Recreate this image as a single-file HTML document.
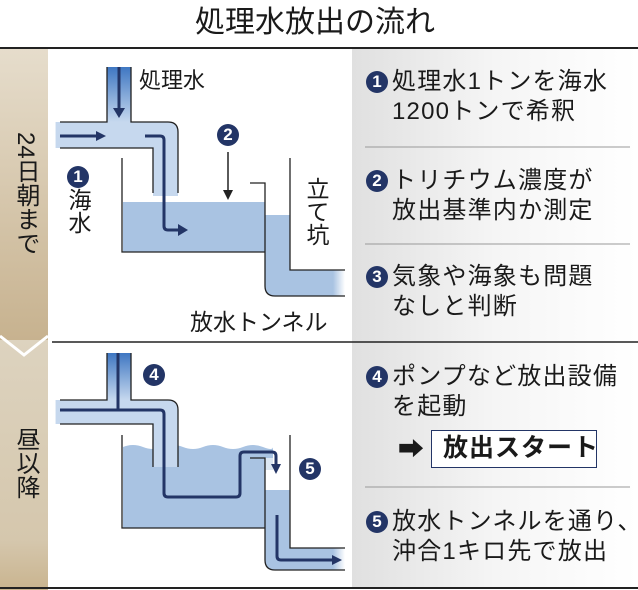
<!DOCTYPE html>
<html><head><meta charset="utf-8"><style>
body{margin:0;background:#fff;}
#w{position:relative;width:638px;height:590px;overflow:hidden;font-family:"Liberation Sans","Noto Sans CJK JP",sans-serif;color:#1a1a1a;}
.t{position:absolute;font-size:24px;line-height:30px;white-space:nowrap;letter-spacing:0px;}
.r{letter-spacing:1.2px;}
.v{position:absolute;writing-mode:vertical-rl;font-size:24px;line-height:24px;}
.c{display:inline-block;width:22px;height:22px;border-radius:50%;background:#233566;color:#fff;font-weight:bold;font-size:17px;line-height:22px;text-align:center;vertical-align:2px;margin-right:4px;font-family:"Liberation Sans",sans-serif;letter-spacing:0;}
</style></head><body><div id="w">
<svg width="638" height="590" style="position:absolute;left:0;top:0">
<defs>
<linearGradient id="tan1" x1="0" y1="0" x2="0" y2="1"><stop offset="0" stop-color="#e6ddcc"/><stop offset="1" stop-color="#c7b28f"/></linearGradient>
<linearGradient id="tan2" x1="0" y1="0" x2="0" y2="1"><stop offset="0" stop-color="#ddd3bf"/><stop offset="0.8" stop-color="#d5c7ad"/><stop offset="1" stop-color="#c9b48f"/></linearGradient>
<linearGradient id="gr" x1="0" y1="0" x2="1" y2="0"><stop offset="0" stop-color="#e0e0e0"/><stop offset="0.5" stop-color="#f5f5f5"/><stop offset="1" stop-color="#fff"/></linearGradient>
<linearGradient id="vp" x1="0" y1="0" x2="0" y2="1"><stop offset="0" stop-color="#3f77c2"/><stop offset="1" stop-color="#c6d8ee"/></linearGradient>
<linearGradient id="fl" x1="0" y1="0" x2="1" y2="0"><stop offset="0" stop-color="#fff"/><stop offset="0.08" stop-color="#c6d8ee"/></linearGradient>
<linearGradient id="fr" x1="0" y1="0" x2="1" y2="0"><stop offset="0.85" stop-color="#a9c3e2"/><stop offset="1" stop-color="#fff"/></linearGradient>
</defs>
<rect x="0" y="48" width="48" height="292" fill="url(#tan1)"/>
<rect x="0" y="340" width="48" height="250" fill="url(#tan2)"/>
<polyline points="0,336 24,355 48,336" fill="none" stroke="#fff" stroke-width="3"/>
<rect x="352" y="49" width="286" height="540" fill="url(#gr)"/>
<line x1="0" y1="48" x2="638" y2="48" stroke="#222" stroke-width="2"/>
<line x1="52" y1="342" x2="638" y2="342" stroke="#222" stroke-width="1.5"/>
<line x1="0" y1="588" x2="638" y2="588" stroke="#222" stroke-width="2"/>
<line x1="365" y1="147" x2="630" y2="147" stroke="#999" stroke-width="1"/>
<line x1="365" y1="244" x2="630" y2="244" stroke="#999" stroke-width="1"/>
<line x1="365" y1="487" x2="630" y2="487" stroke="#999" stroke-width="1"/>

<rect x="123" y="202" width="142" height="50" fill="#a9c3e2"/>
<path d="M265,215 H290 V270 H345 V296 H275 Q265,296 265,286 Z" fill="url(#fr)"/>
<path d="M60,122 H107 V67 H131 V122 H168 Q178,122 178,132 V196 H153 V148 H60 Z" fill="#c6d8ee"/>
<rect x="107" y="67" width="24" height="55" fill="url(#vp)"/>
<rect x="55" y="122" width="14" height="26" fill="url(#fl)"/>
<g fill="none" stroke="#222" stroke-width="1.3">
<path d="M107,67 V122 H60 M131,67 V122 H168 Q178,122 178,132 V193 M60,148 H153 V193"/>
<path d="M122,158 V252 H265 V286 Q265,296 275,296 H345 M250,183 H265 V252 M290,158 V270 H345"/>
</g>
<g stroke="#233566" stroke-width="3" fill="none">
<line x1="119" y1="67" x2="119" y2="112"/>
<line x1="60" y1="136" x2="98" y2="136"/>
<path d="M145,136 H160 Q164,136 164,140 V226 Q164,230 168,230 H180"/>
</g>
<path d="M113,108 L119,118 L125,108 Z M96,131 L106,136 L96,141 Z M178,224 L188,230 L178,236 Z" fill="#233566"/>
<line x1="228" y1="152" x2="228" y2="192" stroke="#222" stroke-width="1.5"/>
<path d="M223,190 L228,200 L233,190 Z" fill="#222"/>

<path d="M123,447 q10,-4 20,0 t20,0 t20,0 t20,0 t20,0 t20,0 t20,0 t10,0 V470 L265,470 V528 H123 Z" fill="#a9c3e2"/>
<path d="M265,490 H290 V548 H345 V570 H275 Q265,570 265,560 Z" fill="url(#fr)"/>
<path d="M60,400 H107 V353 H131 V400 H168 Q178,400 178,410 V467 H153 V424 H60 Z" fill="#c6d8ee"/>
<rect x="107" y="353" width="24" height="47" fill="url(#vp)"/>
<rect x="55" y="400" width="14" height="24" fill="url(#fl)"/>
<rect x="265" y="458" width="20" height="30" fill="#fff" opacity="0.6"/>
<g fill="none" stroke="#222" stroke-width="1.3">
<path d="M107,353 V400 H60 M131,353 V400 H168 Q178,400 178,410 V467 M60,424 H153 V467"/>
<path d="M122,435 V528 H265 V560 Q265,570 275,570 H345 M250,458 H265 V528 M290,435 V548 H345"/>
</g>
<g stroke="#233566" stroke-width="3" fill="none">
<line x1="118" y1="353" x2="118" y2="410"/>
<path d="M60,410 H160 Q164,410 164,414 V493 Q164,497 168,497 H236 Q240,497 240,493 V456 Q240,452 244,452 H272 Q276,452 276,456 V466"/>
<path d="M277,515 V556 Q277,560 281,560 H334"/>
</g>
<path d="M271,464 L276,474 L281,464 Z M332,555 L342,560 L332,565 Z" fill="#233566"/>
</svg>

<div class="t" style="left:195px;top:5px;font-size:30px;line-height:36px;">処理水放出の流れ</div>
<div class="t" style="left:139px;top:66px;font-size:22px;">処理水</div>
<div class="t" style="left:217px;top:120px;"><span class="c">2</span></div>
<div class="t" style="left:67px;top:162px;"><span class="c">1</span></div>
<div class="v" style="left:66px;top:188px;font-size:23px;">海水</div>
<div class="v" style="left:304px;top:177px;font-size:23px;">立て坑</div>
<div class="t" style="left:190px;top:307px;font-size:23px;">放水トンネル</div>
<div class="v" style="left:12px;top:132px;font-size:24px;line-height:26px;">24日朝まで</div>
<div class="v" style="left:12px;top:427px;font-size:24px;line-height:26px;">昼以降</div>
<div class="t" style="left:143px;top:360px;"><span class="c">4</span></div>
<div class="t" style="left:299px;top:454px;"><span class="c">5</span></div>

<div class="t r" style="left:366px;top:67px;"><span class="c">1</span>処理水1トンを海水</div>
<div class="t r" style="left:392px;top:97px;">1200トンで希釈</div>
<div class="t r" style="left:366px;top:166px;"><span class="c">2</span>トリチウム濃度が</div>
<div class="t r" style="left:392px;top:196px;">放出基準内か測定</div>
<div class="t r" style="left:366px;top:262px;"><span class="c">3</span>気象や海象も問題</div>
<div class="t r" style="left:392px;top:292px;">なしと判断</div>
<div class="t r" style="left:366px;top:362px;"><span class="c">4</span>ポンプなど放出設備</div>
<div class="t r" style="left:392px;top:392px;">を起動</div>
<div class="t" style="left:398px;top:434px;font-size:26px;">➡</div>
<div style="position:absolute;left:431px;top:430px;width:164px;height:36px;border:1.5px solid #233566;background:#fff;"></div>
<div class="t" style="left:443px;top:433px;font-weight:bold;font-size:25px;letter-spacing:1px;">放出スタート</div>
<div class="t r" style="left:366px;top:507px;"><span class="c">5</span>放水トンネルを通り、</div>
<div class="t r" style="left:392px;top:537px;">沖合1キロ先で放出</div>
</div></body></html>
